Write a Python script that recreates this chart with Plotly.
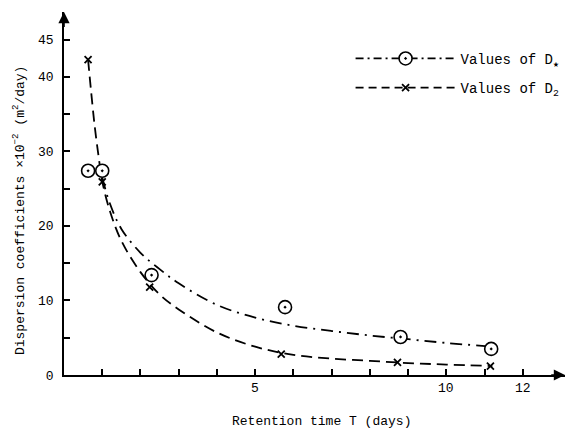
import plotly.graph_objects as go

# Measured points
t_dstar = [0.63, 1.0, 2.29, 5.78, 8.8, 11.17]
v_dstar = [27.4, 27.4, 13.4, 9.1, 5.1, 3.5]
t_d2 = [0.63, 1.0, 2.24, 5.68, 8.72, 11.15]
v_d2 = [42.3, 25.9, 11.8, 2.8, 1.7, 1.2]

# Fitted curves
curve_dstar_t = [1.0, 1.2, 1.5, 2.0, 2.5, 3.0, 4.0, 5.0, 6.0, 7.0, 8.0, 9.0, 10.0, 11.2]
curve_dstar_v = [26.5, 23.0, 19.6, 16.4, 14.2, 12.3, 9.4, 7.7, 6.6, 5.9, 5.3, 4.8, 4.3, 3.8]
curve_d2_t = [0.63, 0.7, 0.8, 0.9, 1.0, 1.2, 1.5, 2.0, 2.5, 3.0, 4.0, 5.0, 6.0, 7.0, 8.0, 9.0, 10.0, 11.2]
curve_d2_v = [42.3, 38.5, 33.5, 29.5, 26.0, 22.0, 18.0, 13.8, 10.8, 8.8, 5.7, 3.8, 2.7, 2.2, 1.9, 1.6, 1.4, 1.2]

x_ticks = list(range(1, 13))
x_labels = ["" if v not in (5, 10, 12) else str(v) for v in x_ticks]
y_ticks = [0, 5, 10, 15, 20, 25, 30, 35, 40, 45]
y_labels = ["0", "", "10", "", "20", "", "30", "", "40", "45"]

FONT = "Liberation Mono, DejaVu Sans Mono, monospace"
DASH_STAR = "12px,6px,2px,6px"
DASH_D2 = "11px,6px"

fig = go.Figure()
fig.add_trace(go.Scatter(x=curve_dstar_t, y=curve_dstar_v, mode="lines",
                         line=dict(color="black", width=1.8, shape="spline", dash=DASH_STAR),
                         showlegend=False, hoverinfo="skip"))
fig.add_trace(go.Scatter(x=curve_d2_t, y=curve_d2_v, mode="lines",
                         line=dict(color="black", width=1.8, shape="spline", dash=DASH_D2),
                         showlegend=False, hoverinfo="skip"))
fig.add_trace(go.Scatter(x=t_dstar, y=v_dstar, mode="markers", showlegend=False,
                         marker=dict(symbol="circle-dot", size=13, color="white", line=dict(color="black", width=1.6))))
fig.add_trace(go.Scatter(x=t_d2, y=v_d2, mode="markers", showlegend=False,
                         marker=dict(symbol="x-thin", size=7, color="black", line=dict(color="black", width=1.8))))

# Legend entries (no data drawn)
fig.add_trace(go.Scatter(x=[None], y=[None], mode="lines+markers", name="Values of D<sub>★</sub>", legendgroup="a",
                         line=dict(color="black", width=1.8, dash="8px,4px,2px,4px"),
                         marker=dict(symbol="circle-dot", size=13, color="white", line=dict(color="black", width=1.6))))
fig.add_trace(go.Scatter(x=[None], y=[None], mode="lines+markers", name="Values of D<sub>2</sub>", legendgroup="b",
                         line=dict(color="black", width=1.8, dash="8px,5px"),
                         marker=dict(symbol="x-thin", size=7, color="black", line=dict(color="black", width=1.8))))

fig.update_layout(
    width=567, height=430,
    margin=dict(l=64, r=2, t=12, b=55),
    paper_bgcolor="white", plot_bgcolor="white",
    font=dict(family=FONT, size=13, color="black"),
    showlegend=True,
    legend=dict(x=0.572, y=0.915, xanchor="left", yanchor="top", bgcolor="rgba(0,0,0,0)",
                font=dict(family=FONT, size=14), itemwidth=100, tracegroupgap=8),
    xaxis=dict(range=[0, 13.1], showgrid=False, zeroline=False, showline=True, linecolor="black", linewidth=1.8,
               tickvals=x_ticks, ticktext=["" for _ in x_ticks], ticks="inside", ticklen=6, tickwidth=1.5, tickcolor="black"),
    yaxis=dict(range=[0, 48.7], showgrid=False, zeroline=False, showline=True, linecolor="black", linewidth=1.8,
               tickvals=y_ticks, ticktext=y_labels, ticks="inside", ticklen=6, tickwidth=1.5, tickcolor="black",
               ticklabelstandoff=6),
)

for v, lab in zip(x_ticks, x_labels):
    if lab:
        fig.add_annotation(x=v, y=0, xref="x", yref="y", yshift=-13, text=lab, showarrow=False,
                           font=dict(family=FONT, size=13))

fig.add_annotation(x=0.514, y=-0.129, xref="paper", yref="paper", text="Retention time T (days)",
                   showarrow=False, xanchor="center", yanchor="middle", font=dict(family=FONT, size=13))
fig.add_annotation(x=-0.0896, y=0.452, xref="paper", yref="paper", textangle=-90,
                   text="Dispersion coefficients ×10<sup>−2</sup> (m<sup>2</sup>/day)",
                   showarrow=False, xanchor="center", yanchor="middle", font=dict(family=FONT, size=13))

fig.add_annotation(x=13.1, y=0, ax=12.7, ay=0, xref="x", yref="y", axref="x", ayref="y",
                   showarrow=True, arrowhead=2, arrowsize=1.4, arrowwidth=1.6, arrowcolor="black", text="")
fig.add_annotation(x=0, y=48.7, ax=0, ay=46.5, xref="x", yref="y", axref="x", ayref="y",
                   showarrow=True, arrowhead=2, arrowsize=1.4, arrowwidth=1.6, arrowcolor="black", text="")

fig.write_html("out.html", config={"displayModeBar": False},
               post_script="document.body.style.margin='0';document.body.style.overflow='hidden';")
